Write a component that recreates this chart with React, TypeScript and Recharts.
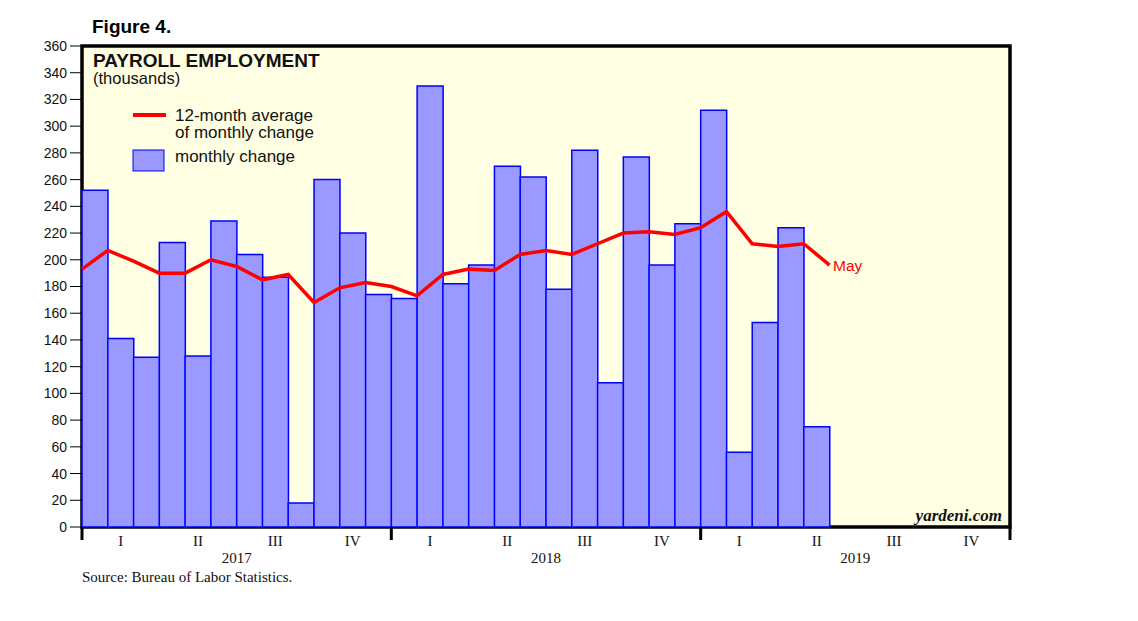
import React from "react";
import {
  Bar,
  CartesianGrid,
  ComposedChart,
  Line,
  ReferenceArea,
  XAxis,
  YAxis,
} from "recharts";

// monthly change in payrolls, thousands (Jan 2017 .. May 2019)
const monthlyChange = [
  252, 141, 127, 213, 128, 229, 204, 187, 18, 260, 220, 174,
  171, 330, 182, 196, 270, 262, 178, 282, 108, 277, 196, 227,
  312, 56, 153, 224, 75,
];

// 12-month average, plotted at month ends (first point = Dec 2016)
const avg12 = [
  193, 207, 199, 190, 190, 200, 195, 185, 189, 168, 179, 183,
  180, 173, 189, 193, 192, 204, 207, 204, 212, 220, 221, 219,
  224, 236, 212, 210, 212, 196,
];

const years = ["2017", "2018", "2019"];
const quarters = ["I", "II", "III", "IV"];
const yTicks = [
  0, 20, 40, 60, 80, 100, 120, 140, 160, 180, 200, 220, 240, 260, 280, 300,
  320, 340, 360,
];

const barData = monthlyChange.map((v, i) => ({ bx: i + 0.5, change: v }));
const lineData = avg12.map((v, i) => ({ lx: i, avg: v }));

// year boundaries, quarter centres, year centres (in months)
const xTicks: number[] = [];
years.forEach((_, y) => {
  xTicks.push(y * 12);
  quarters.forEach((_, q) => xTicks.push(y * 12 + q * 3 + 1.5));
  xTicks.push(y * 12 + 6);
});
xTicks.push(36);

const SANS = '"Liberation Sans", Arial, sans-serif';
const SERIF = '"Liberation Serif", "Times New Roman", serif';

function BottomTick(props: any) {
  const { x, y, payload } = props;
  const v = payload.value as number;
  const m = v % 12;
  if (m === 0) {
    return <line x1={x} x2={x} y1={y} y2={y + 13} stroke="#000" strokeWidth={3} />;
  }
  if (m === 6) {
    return (
      <text x={x} y={y + 36} textAnchor="middle" fontFamily={SERIF} fontSize={15} fill="#111">
        {years[Math.floor(v / 12)]}
      </text>
    );
  }
  return (
    <text x={x} y={y + 19} textAnchor="middle" fontFamily={SERIF} fontSize={15} fill="#111">
      {quarters[Math.floor(m / 3)]}
    </text>
  );
}

export default function App() {
  const yTickStyle = { fontSize: 14, fill: "#111", fontFamily: SANS };
  return (
    <div style={{ position: "absolute", left: 0, top: 0, width: 1138, height: 621, background: "#fff" }}>
      <ComposedChart
        width={1138}
        height={621}
        data={barData}
        margin={{ top: 46, right: 78, bottom: 64, left: 32 }}
        barCategoryGap={0}
        barGap={0}
      >
        <CartesianGrid xAxisId="l" yAxisId="left" horizontal={false} vertical={false} fill="#FFFFE3" />
        <XAxis
          xAxisId="l"
          type="number"
          dataKey="lx"
          domain={[0, 36]}
          ticks={xTicks}
          interval={0}
          tick={BottomTick}
          tickLine={false}
          axisLine={false}
          tickSize={0}
          tickMargin={0}
          height={30}
        />
        <XAxis xAxisId="b" type="number" dataKey="bx" domain={[0, 36]} height={0} hide />
        <YAxis
          yAxisId="left"
          domain={[0, 360]}
          ticks={yTicks}
          interval={0}
          width={50}
          axisLine={false}
          tickLine={{ stroke: "#000" }}
          tickSize={12}
          tickMargin={3}
          tick={yTickStyle}
        />
        <YAxis
          yAxisId="right"
          orientation="right"
          domain={[0, 360]}
          ticks={yTicks}
          interval={0}
          width={50}
          axisLine={false}
          tickLine={{ stroke: "#000" }}
          tickSize={12}
          tickMargin={3}
          tick={yTickStyle}
        />
        <Bar
          xAxisId="b"
          yAxisId="left"
          dataKey="change"
          fill="#9999FF"
          stroke="#0000FF"
          strokeWidth={1.5}
          isAnimationActive={false}
        />
        <Line
          xAxisId="l"
          yAxisId="left"
          data={lineData}
          dataKey="avg"
          stroke="#FF0000"
          strokeWidth={3.5}
          dot={false}
          activeDot={false}
          isAnimationActive={false}
        />
        <ReferenceArea
          xAxisId="l"
          yAxisId="left"
          x1={0}
          x2={36}
          y1={0}
          y2={360}
          fill="none"
          fillOpacity={0}
          stroke="#000"
          strokeWidth={3.5}
          ifOverflow="visible"
        />
      </ComposedChart>
      <svg
        width={1138}
        height={621}
        style={{ position: "absolute", left: 0, top: 0, pointerEvents: "none" }}
      >
        <text x={92} y={33} fontFamily={SANS} fontWeight="bold" fontSize={19} fill="#000">
          Figure 4.
        </text>
        <text x={93} y={67} fontFamily={SANS} fontWeight="bold" fontSize={19} fill="#111">
          PAYROLL EMPLOYMENT
        </text>
        <text x={93} y={84} fontFamily={SANS} fontSize={16.5} fill="#111">
          (thousands)
        </text>
        <line x1={133} x2={166} y1={115} y2={115} stroke="#FF0000" strokeWidth={4} />
        <text x={175} y={121} fontFamily={SANS} fontSize={17} fill="#111">
          12-month average
        </text>
        <text x={175} y={138} fontFamily={SANS} fontSize={17} fill="#111">
          of monthly change
        </text>
        <rect x={133} y={150} width={31} height={21} fill="#9999FF" stroke="#0000FF" strokeWidth={1} />
        <text x={175} y={162} fontFamily={SANS} fontSize={17} fill="#111">
          monthly change
        </text>
        <text x={833} y={271} fontFamily={SANS} fontSize={15.5} fill="#FF0000">
          May
        </text>
        <text
          x={1002}
          y={521}
          textAnchor="end"
          fontFamily={SERIF}
          fontStyle="italic"
          fontWeight="bold"
          fontSize={17}
          fill="#111"
        >
          yardeni.com
        </text>
        <text x={82} y={582} fontFamily={SERIF} fontSize={15} fill="#111">
          Source: Bureau of Labor Statistics.
        </text>
      </svg>
    </div>
  );
}
